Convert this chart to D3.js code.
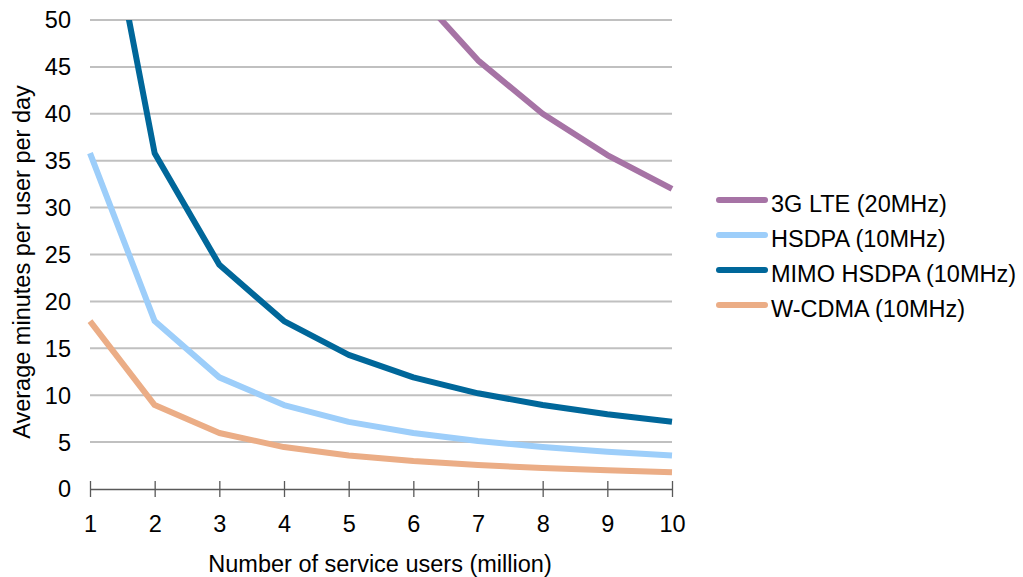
<!DOCTYPE html>
<html>
<head>
<meta charset="utf-8">
<script src="https://cdn.jsdelivr.net/npm/d3@7"></script>
<style>
  body { margin: 0; background: #fff; }
  svg { display: block; font-family: "Liberation Sans", Arial, sans-serif; }
</style>
</head>
<body>
<svg id="chart" width="1023" height="577"></svg>
<script>
// Users in millions
const users = [1, 2, 3, 4, 5, 6, 7, 8, 9, 10];

// Average minutes per user per day, by technology
const lte20   = [320, 160, 106.7, 80, 64, 53.3, 45.7, 40.0, 35.6, 32.0];
const hsdpa10 = [35.8, 17.9, 11.9, 8.95, 7.16, 5.97, 5.11, 4.47, 3.98, 3.58];
const mimo10  = [71.6, 35.8, 23.9, 17.9, 14.3, 11.9, 10.2, 8.95, 7.96, 7.16];
const wcdma10 = [17.9, 8.95, 5.97, 4.47, 3.58, 2.98, 2.56, 2.24, 1.99, 1.79];

const seriesNames = ["3G LTE (20MHz)", "HSDPA (10MHz)", "MIMO HSDPA (10MHz)", "W-CDMA (10MHz)"];
const seriesValues = [lte20, hsdpa10, mimo10, wcdma10];
const seriesColors = ["#A673A5", "#9DCEFA", "#00679A", "#EBAD86"];

const yTicks = [0, 5, 10, 15, 20, 25, 30, 35, 40, 45, 50];

const FS = 23.5;
const svg = d3.select("#chart");
const plotLeft = 90, plotRight = 672, plotTop = 20, plotBottom = 489;

const x = d3.scaleLinear().domain([1, 10]).range([plotLeft, plotRight]);
const y = d3.scaleLinear().domain([0, 50]).range([plotBottom, plotTop]);

// Horizontal gridlines
svg.append("g")
  .selectAll("line")
  .data(yTicks.filter(d => d > 0))
  .join("line")
  .attr("x1", plotLeft).attr("x2", plotRight)
  .attr("y1", d => y(d)).attr("y2", d => y(d))
  .attr("stroke", "#C0C0C0")
  .attr("stroke-width", 2);

// Y tick labels
svg.append("g")
  .selectAll("text")
  .data(yTicks)
  .join("text")
  .attr("x", 71)
  .attr("y", d => y(d))
  .attr("dy", "0.36em")
  .attr("text-anchor", "end")
  .attr("font-size", FS)
  .attr("fill", "#000")
  .text(d => d);

// X axis
const xAxis = d3.axisBottom(x).tickValues(users).tickSize(8).tickSizeOuter(0).tickPadding(18);
const gx = svg.append("g").attr("transform", `translate(0,${plotBottom})`).call(xAxis);
gx.select(".domain").attr("stroke", "#595959").attr("stroke-width", 1.5);
gx.selectAll(".tick line").attr("stroke", "#595959").attr("stroke-width", 1.3).attr("y1", -8);
gx.selectAll(".tick text").attr("font-size", FS).attr("fill", "#000")
  .attr("font-family", "Liberation Sans, Arial, sans-serif");

// Clip region for series lines
svg.append("clipPath").attr("id", "plotClip")
  .append("rect").attr("x", plotLeft - 5).attr("y", plotTop)
  .attr("width", plotRight - plotLeft + 10).attr("height", plotBottom - plotTop + 10);

const line = d3.line().x((d, i) => x(users[i])).y(d => y(d));

svg.append("g").attr("clip-path", "url(#plotClip)")
  .selectAll("path")
  .data(seriesValues)
  .join("path")
  .attr("d", d => line(d))
  .attr("fill", "none")
  .attr("stroke", (d, i) => seriesColors[i])
  .attr("stroke-width", 6)
  .attr("stroke-linejoin", "round");

// Axis titles
svg.append("text")
  .attr("x", 380)
  .attr("y", 572)
  .attr("text-anchor", "middle")
  .attr("font-size", FS)
  .text("Number of service users (million)");

svg.append("text")
  .attr("transform", "translate(30,262) rotate(-90)")
  .attr("text-anchor", "middle")
  .attr("font-size", FS)
  .text("Average minutes per user per day");

// Legend
const legend = svg.append("g")
  .selectAll("g")
  .data(seriesNames)
  .join("g")
  .attr("transform", (d, i) => `translate(716,${200 + i * 35})`);

legend.append("line")
  .attr("x1", 3).attr("x2", 49)
  .attr("stroke", (d, i) => seriesColors[i])
  .attr("stroke-width", 6)
  .attr("stroke-linecap", "round");

legend.append("text")
  .attr("x", 55)
  .attr("y", 12)
  .attr("font-size", FS)
  .text(d => d);
</script>
</body>
</html>
